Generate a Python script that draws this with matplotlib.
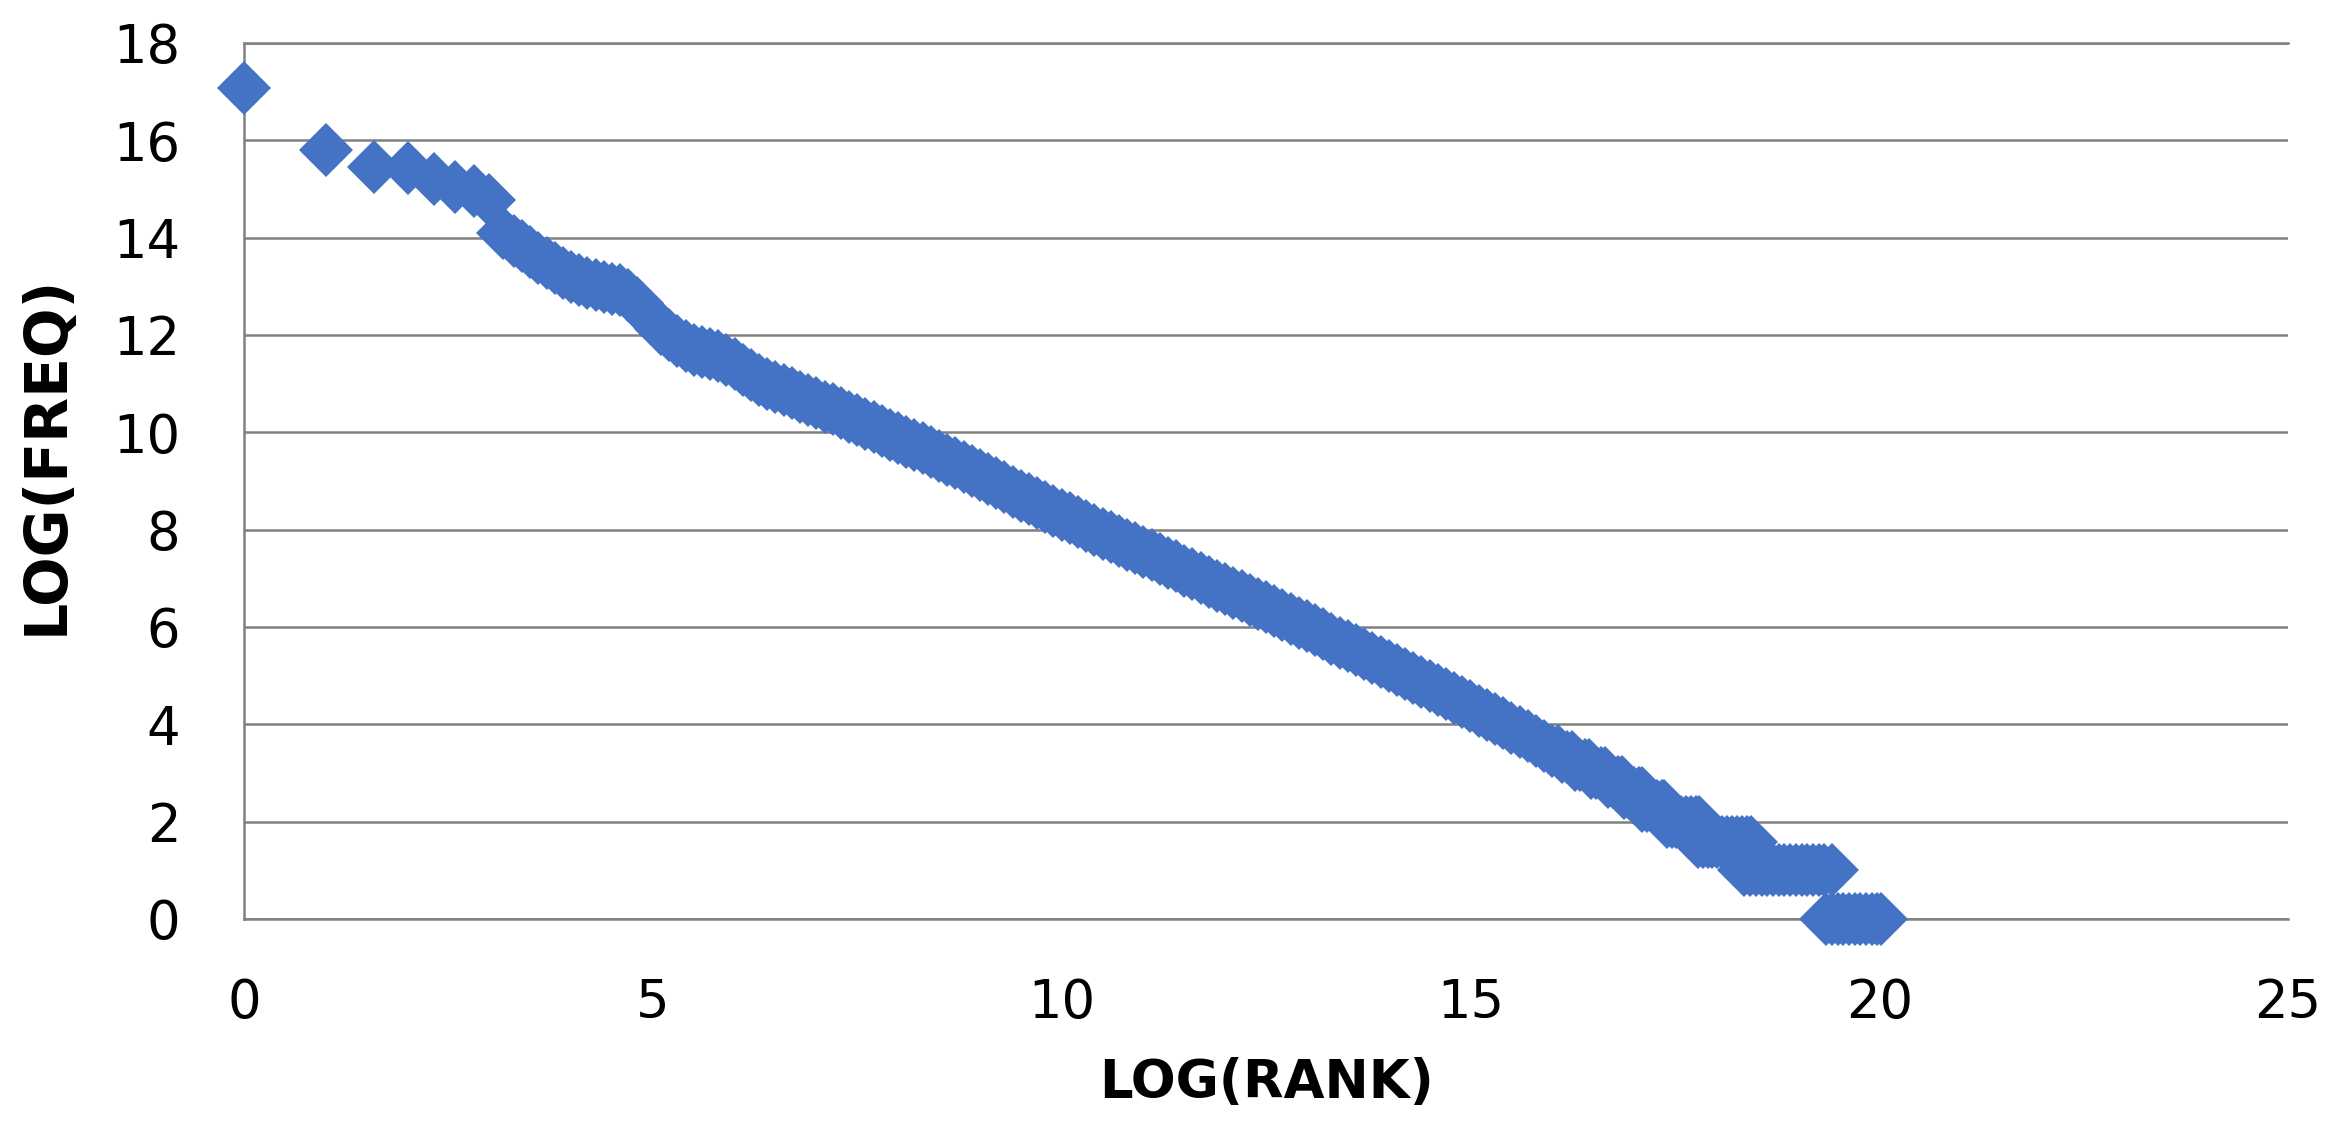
import matplotlib.pyplot as plt

# log2 rank vs log2 frequency
# top ranks (isolated diamonds)
head_rank = [0.0, 1.0, 1.585, 2.0, 2.32, 2.585, 2.81, 3.0]
head_freq = [17.07, 15.81, 15.46, 15.43, 15.2, 15.04, 14.95, 14.78]

# dense middle part of the curve
band_rank = [3.17, 3.3, 3.4, 3.5, 3.6, 3.7, 3.8, 3.9, 4.0, 4.1, 4.2, 4.3, 4.4, 4.5,
             4.6, 4.7, 4.8, 4.9, 5.0, 5.1, 5.2, 5.3, 5.4, 5.5, 5.6, 5.7, 5.8, 5.9,
             6.0, 6.1, 6.2, 6.3, 6.4, 6.5, 6.6, 6.7, 6.8, 6.9, 7.0, 7.1, 7.2, 7.3,
             7.4, 7.5, 7.6, 7.7, 7.8, 7.9, 8.0, 8.1, 8.2, 8.3, 8.4, 8.5, 8.6, 8.7,
             8.8, 8.9, 9.0, 9.1, 9.2, 9.3, 9.4, 9.5, 9.6, 9.7, 9.8, 9.9, 10.0, 10.1,
             10.2, 10.3, 10.4, 10.5, 10.6, 10.7, 10.8, 10.9, 11.0, 11.1, 11.2, 11.3,
             11.4, 11.5, 11.6, 11.7, 11.8, 11.9, 12.0, 12.1, 12.2, 12.3, 12.4, 12.5,
             12.6, 12.7, 12.8, 12.9, 13.0, 13.1, 13.2, 13.3, 13.4, 13.5, 13.6, 13.7,
             13.8, 13.9, 14.0, 14.1, 14.2, 14.3, 14.4, 14.5, 14.6, 14.7, 14.8, 14.9,
             15.0, 15.1, 15.2, 15.3, 15.4, 15.5, 15.6, 15.7, 15.8, 15.9]
band_freq = [14.1, 13.94, 13.82, 13.7, 13.58, 13.47, 13.37, 13.28, 13.2, 13.13, 13.07, 13.02, 12.98, 12.95,
             12.92, 12.82, 12.65, 12.47, 12.3, 12.13, 12.0, 11.88, 11.78, 11.7, 11.65, 11.6, 11.56, 11.48,
             11.4, 11.28, 11.17, 11.08, 11.0, 10.93, 10.87, 10.8, 10.72, 10.66, 10.6, 10.53, 10.47, 10.4,
             10.32, 10.25, 10.17, 10.1, 10.02, 9.95, 9.88, 9.81, 9.74, 9.67, 9.6, 9.52, 9.44, 9.36,
             9.28, 9.2, 9.12, 9.04, 8.96, 8.87, 8.78, 8.7, 8.62, 8.54, 8.46, 8.38, 8.31, 8.23,
             8.15, 8.07, 7.99, 7.91, 7.84, 7.76, 7.69, 7.62, 7.55, 7.47, 7.4, 7.32,
             7.25, 7.16, 7.08, 7.0, 6.93, 6.85, 6.78, 6.7, 6.63, 6.55, 6.48, 6.4,
             6.33, 6.25, 6.17, 6.09, 6.01, 5.93, 5.85, 5.76, 5.68, 5.6, 5.52, 5.44,
             5.36, 5.28, 5.2, 5.11, 5.03, 4.95, 4.87, 4.79, 4.71, 4.63, 4.55, 4.46,
             4.37, 4.28, 4.2, 4.11, 4.02, 3.93, 3.84, 3.75, 3.66, 3.56]

# low frequency tail: runs of equal counts (freq 11 ... 1)
tail_rank = [16.0, 16.07,
             16.12, 16.18, 16.24,
             16.28, 16.34, 16.4, 16.45,
             16.48, 16.54, 16.6, 16.65,
             16.68, 16.74, 16.8, 16.85,
             16.88, 16.94, 17.0, 17.06, 17.1,
             17.1, 17.16, 17.22, 17.28, 17.34, 17.37,
             17.4, 17.46, 17.52, 17.58, 17.64, 17.7, 17.76, 17.8,
             17.78, 17.84, 17.9, 17.96, 18.02, 18.08, 18.14, 18.2, 18.26, 18.32, 18.38, 18.43,
             18.35, 18.42, 18.49, 18.56, 18.63, 18.7, 18.77, 18.84, 18.91, 18.98, 19.05, 19.12,
             19.19, 19.26, 19.33, 19.42,
             19.35, 19.42, 19.49, 19.56, 19.63, 19.7, 19.77, 19.84, 19.91, 19.97, 20.02]
tail_freq = [3.46, 3.46,
             3.32, 3.32, 3.32,
             3.17, 3.17, 3.17, 3.17,
             3.0, 3.0, 3.0, 3.0,
             2.807, 2.807, 2.807, 2.807,
             2.585, 2.585, 2.585, 2.585, 2.585,
             2.322, 2.322, 2.322, 2.322, 2.322, 2.322,
             2.0, 2.0, 2.0, 2.0, 2.0, 2.0, 2.0, 2.0,
             1.585, 1.585, 1.585, 1.585, 1.585, 1.585, 1.585, 1.585, 1.585, 1.585, 1.585, 1.585,
             1.0, 1.0, 1.0, 1.0, 1.0, 1.0, 1.0, 1.0, 1.0, 1.0, 1.0, 1.0,
             1.0, 1.0, 1.0, 1.0,
             0.0, 0.0, 0.0, 0.0, 0.0, 0.0, 0.0, 0.0, 0.0, 0.0, 0.0]

log_rank = head_rank + band_rank + tail_rank
log_freq = head_freq + band_freq + tail_freq

x_ticks = [0, 5, 10, 15, 20, 25]
y_ticks = [0, 2, 4, 6, 8, 10, 12, 14, 16, 18]

grid_color = '#808080'

fig = plt.figure(figsize=(23.4, 11.4), dpi=100)
ax = fig.add_axes([0.1043, 0.1939, 0.8735, 0.7684])

ax.plot(log_rank, log_freq, linestyle='none', marker='D', markersize=27.5,
        markeredgewidth=0, color='#4472C4', clip_on=False, zorder=5)

ax.set_xlim(0, 25)
ax.set_ylim(0, 18)
ax.set_xticks(x_ticks)
ax.set_yticks(y_ticks)
ax.tick_params(length=0, labelsize=38, colors='black')
ax.tick_params(axis='x', pad=42)
ax.tick_params(axis='y', pad=46)

ax.yaxis.grid(True, color=grid_color, linewidth=1.8)
ax.set_axisbelow(True)
for side in ['top', 'bottom', 'left']:
    ax.spines[side].set_color(grid_color)
    ax.spines[side].set_linewidth(1.8)
ax.spines['right'].set_visible(False)

ax.set_xlabel('LOG(RANK)', fontsize=38, fontweight='bold')
ax.xaxis.label.set_va('center')
ax.xaxis.set_label_coords(0.5, -0.187)
ax.set_ylabel('LOG(FREQ)', fontsize=42, fontweight='bold')
ax.yaxis.label.set_va('center')
ax.yaxis.set_label_coords(-0.097, 0.53)

plt.savefig('out.png', dpi=100)
